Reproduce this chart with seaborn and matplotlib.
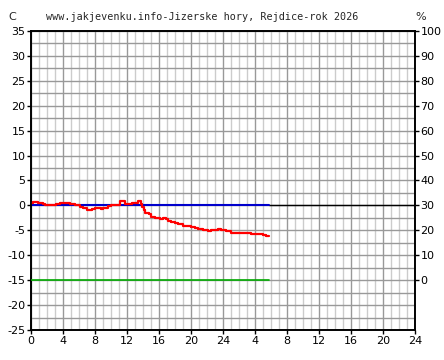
import matplotlib
matplotlib.use("Agg")
import matplotlib.pyplot as plt
import seaborn as sns
import pandas as pd
import numpy as np

title = "www.jakjevenku.info-Jizerske hory, Rejdice-rok 2026"
hours = [0, 0.3, 0.6, 0.9, 1.3, 1.5, 1.75, 2.1, 2.4, 3.0, 3.1, 3.6, 4.0, 4.6, 4.9, 5.2, 5.5, 5.9,
         6.1, 6.5, 6.9, 7.0, 7.5, 7.6, 8.0, 8.6, 8.7, 9.0, 9.4, 9.6, 10.0, 10.6, 11.1, 11.6, 11.75,
         12.5, 12.6, 13.0, 13.2, 13.4, 13.6, 13.7, 13.9, 14.1, 14.3, 14.6, 14.7, 15.0, 15.5, 16.1,
         16.5, 16.9, 17.1, 17.5, 18.0, 18.4, 19.0, 19.6, 20.0, 20.5, 20.9, 21.5, 22.1, 22.5, 23.4,
         23.8, 24.4, 25.0, 26.5, 27.5, 28.6, 29.0, 29.4, 29.8]
temps = [0.4, 0.7, 0.7, 0.5, 0.5, 0.3, 0.1, 0.1, 0.0, 0.0, 0.3, 0.5, 0.5, 0.5, 0.3, 0.3, 0.1, 0.1,
         -0.3, -0.6, -0.6, -0.9, -0.9, -0.7, -0.6, -0.6, -0.8, -0.5, -0.5, -0.2, 0.1, 0.0, 0.9, 0.9, 0.3,
         0.3, 0.5, 0.4, 0.4, 0.8, 0.8, 0.2, -0.4, -1.0, -1.5, -1.5, -1.8, -2.3, -2.6, -2.8,
         -2.6, -2.8, -3.2, -3.3, -3.5, -3.7, -4.1, -4.2, -4.4, -4.5, -4.8, -5.0, -5.1, -4.9, -4.8,
         -5.0, -5.2, -5.5, -5.6, -5.7, -5.8, -6.0, -6.1, -6.2]
hum_hours = [0, 29.8]
hum_vals = [0, 0]
x_ticks = list(range(0, 49, 4))
x_labels = ["0", "4", "8", "12", "16", "20", "24", "4", "8", "12", "16", "20", "24"]
c_ticks = list(range(-25, 36, 5))
pct_ticks = list(range(0, 101, 10))

sns.set_style("white")
plt.rcParams["font.family"] = ["DejaVu Sans"]

fig = plt.figure(figsize=(4.44, 3.6), dpi=100)
ax = fig.add_axes([31/444, 1-330/360, 384/444, 299/360])
ax.set_xlim(0, 48)
ax.set_ylim(-25, 35)

# grid
for h in range(0, 49):
    ax.axvline(h, color="#999999" if h % 4 == 0 else "#cccccc", lw=1, zorder=0)
for c in np.arange(-25, 35.1, 2.5):
    ax.axhline(c, color="#999999", lw=1, zorder=0)

df = pd.DataFrame({"hour": hours, "temp": temps})
last = hours[-1]
ax.plot([last, 48], [0, 0], color="black", lw=1, zorder=2)
ax.plot([0, last], [0, 0], color="#0000cc", lw=1.5, zorder=2)
sns.lineplot(data=df, x="hour", y="temp", ax=ax, color="#ff0000", lw=1.6,
             drawstyle="steps-post", zorder=3)

ax2 = ax.twinx()
ax2.set_ylim(-20, 100)
hdf = pd.DataFrame({"hour": hum_hours, "hum": hum_vals})
sns.lineplot(data=hdf, x="hour", y="hum", ax=ax2, color="#00aa00", lw=1.2, zorder=3)
ax2.set_yticks(pct_ticks)
ax2.set_yticklabels([str(v) for v in pct_ticks], fontsize=8)
ax2.tick_params(axis="y", direction="out", length=3, pad=1, width=1, colors="black")
ax2.set_ylabel("")
ax2.set_xlabel("")

ax.set_xticks(x_ticks)
ax.set_xticklabels(x_labels, fontsize=8)
ax.set_yticks(c_ticks)
ax.set_yticklabels([str(v) for v in c_ticks], fontsize=8)
ax.tick_params(axis="both", direction="out", length=3, pad=1, width=1, colors="black", left=True, bottom=True)
ax.set_xlabel("")
ax.set_ylabel("")
for a in (ax, ax2):
    for s in a.spines.values():
        s.set_color("black")
        s.set_linewidth(1.2)

fig.text(202/444, 1-17/360, title, ha="center", va="center", fontsize=7.3, family="DejaVu Sans Mono")
fig.text(12/444, 1-17/360, "C", ha="center", va="center", fontsize=8)
fig.text(421/444, 1-17/360, "%", ha="center", va="center", fontsize=8)

fig.savefig("out.png", dpi=100, facecolor="white")
